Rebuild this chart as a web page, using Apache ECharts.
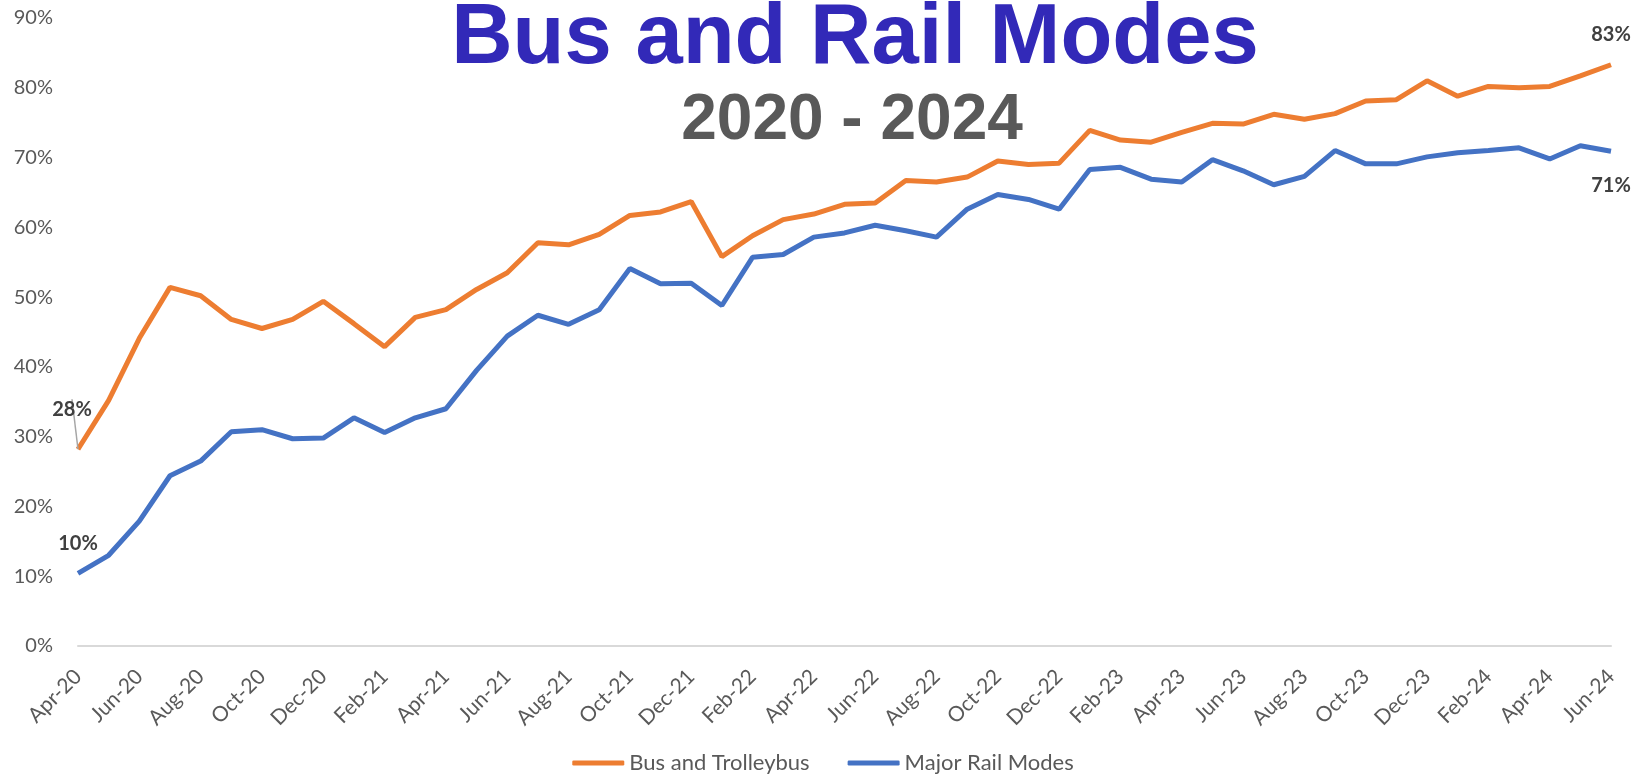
<!DOCTYPE html>
<html>
<head>
<meta charset="utf-8">
<script src="https://cdn.jsdelivr.net/npm/echarts@6/dist/echarts.min.js"></script>
<style>
  html, body { margin: 0; padding: 0; background: #ffffff; }
  #chart { width: 1646px; height: 776px; }
</style>
</head>
<body>
<div id="chart"></div>
<script>
let months = ['Apr-20','May-20','Jun-20','Jul-20','Aug-20','Sep-20','Oct-20','Nov-20','Dec-20',
  'Jan-21','Feb-21','Mar-21','Apr-21','May-21','Jun-21','Jul-21','Aug-21','Sep-21','Oct-21','Nov-21','Dec-21',
  'Jan-22','Feb-22','Mar-22','Apr-22','May-22','Jun-22','Jul-22','Aug-22','Sep-22','Oct-22','Nov-22','Dec-22',
  'Jan-23','Feb-23','Mar-23','Apr-23','May-23','Jun-23','Jul-23','Aug-23','Sep-23','Oct-23','Nov-23','Dec-23',
  'Jan-24','Feb-24','Mar-24','Apr-24','May-24','Jun-24'];

// % of 2019 ridership
let busTrolley = [28.2, 35.2, 44.1, 51.4, 50.2, 46.8, 45.5, 46.8, 49.4,
  46.2, 42.9, 47.1, 48.2, 51.1, 53.5, 57.8, 57.5, 59.0, 61.7, 62.2, 63.7,
  55.8, 58.8, 61.1, 61.9, 63.3, 63.5, 66.7, 66.5, 67.2, 69.5, 69.0, 69.2,
  73.9, 72.5, 72.2, 73.6, 74.9, 74.8, 76.2, 75.5, 76.3, 78.1, 78.3, 81.0,
  78.8, 80.2, 80.0, 80.2, 81.7, 83.3];

let majorRail = [10.4, 13.0, 17.9, 24.4, 26.5, 30.7, 31.0, 29.7, 29.8,
  32.7, 30.6, 32.7, 34.0, 39.5, 44.4, 47.4, 46.1, 48.2, 54.1, 51.9, 52.0,
  48.8, 55.7, 56.1, 58.6, 59.2, 60.3, 59.5, 58.6, 62.6, 64.7, 64.0, 62.6,
  68.3, 68.6, 66.9, 66.5, 69.7, 68.1, 66.1, 67.3, 71.0, 69.1, 69.1, 70.1,
  70.7, 71.0, 71.4, 69.8, 71.7, 70.9];

let yTicks = [0, 10, 20, 30, 40, 50, 60, 70, 80, 90];

let labelStyle = {
    show: true,
    color: '#404040',
    fontFamily: 'Lato',
    fontWeight: 'bold',
    fontSize: 20,
    formatter: function (p) { return Math.round(p.value) + '%'; }
};

function withEndLabels(values, firstPos, lastPos, firstLine) {
    return values.map(function (v, i) {
        if (i === 0) {
            let item = { value: v, label: Object.assign({}, labelStyle, firstPos) };
            if (firstLine) {
                item.labelLine = { show: true, lineStyle: { color: '#A6A6A6', width: 1.5 } };
            }
            return item;
        }
        if (i === values.length - 1) {
            return { value: v, label: Object.assign({}, labelStyle, lastPos) };
        }
        return v;
    });
}

let myChart = echarts.init(document.getElementById('chart'));
let option = {
    backgroundColor: '#ffffff',
    animation: false,
    title: [
        {
            text: 'Bus and Rail Modes',
            left: 850,
            top: -8,
            textAlign: 'center',
            textStyle: {
                color: '#3229B8',
                fontFamily: 'Liberation Sans',
                fontWeight: 'bold',
                fontSize: 85
            }
        },
        {
            text: '2020 - 2024',
            left: 847,
            top: 84,
            textAlign: 'center',
            textStyle: {
                color: '#595959',
                fontFamily: 'Liberation Sans',
                fontWeight: 'bold',
                fontSize: 64
            }
        }
    ],
    legend: {
        top: 747,
        left: 'center',
        icon: 'roundRect',
        itemWidth: 52,
        itemHeight: 5,
        itemGap: 38,
        textStyle: {
            color: '#595959',
            fontFamily: 'Lato',
            fontSize: 22
        },
        data: ['Bus and Trolleybus', 'Major Rail Modes']
    },
    grid: {
        left: 78,
        right: 35,
        top: 18,
        bottom: 130
    },
    xAxis: {
        type: 'category',
        boundaryGap: false,
        data: months,
        axisLine: { show: true, lineStyle: { color: '#D9D9D9', width: 2 } },
        axisTick: { show: false },
        splitLine: { show: false },
        axisLabel: {
            interval: 1,
            rotate: 45,
            margin: 27,
            color: '#595959',
            fontFamily: 'Lato',
            fontSize: 21
        }
    },
    yAxis: {
        type: 'value',
        min: yTicks[0],
        max: yTicks[yTicks.length - 1],
        interval: 10,
        axisLine: { show: false },
        axisTick: { show: false },
        splitLine: { show: false },
        axisLabel: {
            margin: 25,
            color: '#595959',
            fontFamily: 'Lato',
            fontSize: 20,
            formatter: '{value}%'
        }
    },
    series: [
        {
            name: 'Bus and Trolleybus',
            type: 'line',
            color: '#ED7D31',
            showSymbol: true,
            symbol: 'circle',
            symbolSize: 0,
            lineStyle: { width: 5, color: '#ED7D31' },
            labelLayout: function (p) {
                if (p.dataIndex === 0) {
                    return { dx: -6, dy: -22 };
                }
                return {};
            },
            data: withEndLabels(busTrolley,
                { position: 'top', distance: 8 },
                { position: 'top', distance: 20 },
                true)
        },
        {
            name: 'Major Rail Modes',
            type: 'line',
            color: '#4472C4',
            showSymbol: true,
            symbol: 'circle',
            symbolSize: 0,
            lineStyle: { width: 5, color: '#4472C4' },
            data: withEndLabels(majorRail,
                { position: 'top', distance: 20 },
                { position: 'bottom', distance: 24 },
                false)
        }
    ]
};
myChart.setOption(option);
</script>
</body>
</html>
